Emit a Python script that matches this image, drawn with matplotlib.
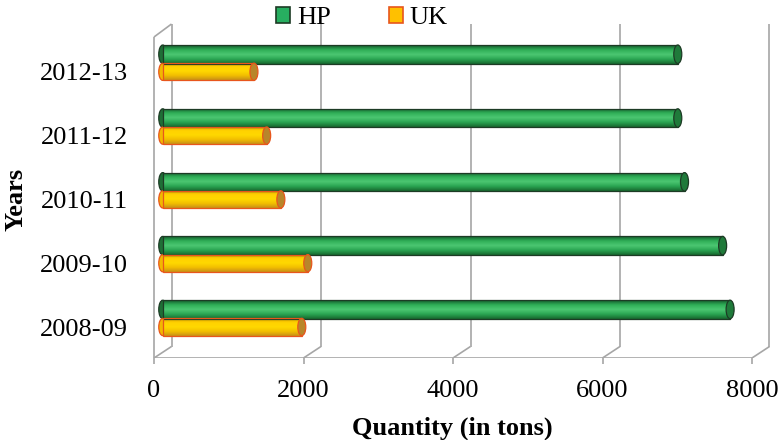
import matplotlib
matplotlib.use('Agg')
import matplotlib.pyplot as plt
import numpy as np
from matplotlib.patches import Rectangle, Ellipse, Patch
from matplotlib.colors import LinearSegmentedColormap

# data (bottom to top)
years = ['2008-09', '2009-10', '2010-11', '2011-12', '2012-13']
hp = [7590, 7490, 6980, 6890, 6890]
uk = [1860, 1940, 1580, 1390, 1220]
x_ticks = [0, 2000, 4000, 6000, 8000]

plt.rcParams['font.family'] = ['Liberation Serif', 'DejaVu Serif']

W, H = 781, 440
fig = plt.figure(figsize=(W / 100, H / 100), dpi=100)

# pixel geometry of the front plane
X0_PX, PX_PER_UNIT = 154, 598 / 8000
Y0_PX, PX_PER_CAT = 327, 63.8
L, R, T, B = 150, 775, 15, 358

ax = fig.add_axes([L / W, (H - B) / H, (R - L) / W, (B - T) / H])
xlim = ((L - X0_PX) / PX_PER_UNIT, (R - X0_PX) / PX_PER_UNIT)
ylim = ((Y0_PX - B) / PX_PER_CAT, (Y0_PX - T) / PX_PER_CAT)

# depth offset of back wall (pixels -> data)
DX = 17.5 / PX_PER_UNIT
DY = 11.5 / PX_PER_CAT
y_floor = ylim[0]
y_top_back = (Y0_PX - 24) / PX_PER_CAT
y_top_front = (Y0_PX - 37) / PX_PER_CAT

grid_kw = dict(color='#a6a6a6', lw=1.2, zorder=1, solid_capstyle='butt')
ax.plot([0, 8000], [y_floor, y_floor], **grid_kw)
for v in x_ticks:
    ax.plot([v, v + DX], [y_floor, y_floor + DY], **grid_kw)
    ax.plot([v + DX, v + DX], [y_floor + DY, y_top_back], **grid_kw)
ax.plot([0, 0], [y_floor, y_top_front], **grid_kw)
ax.plot([0, DX], [y_top_front, y_top_back], **grid_kw)

# cylinder bars
green_cm = LinearSegmentedColormap.from_list('g', ['#145c2c', '#2fae57', '#4cc772', '#2aa552', '#17682f'])
yellow_cm = LinearSegmentedColormap.from_list('y', ['#e0a000', '#ffd200', '#ffd800', '#f2be00', '#c89018'])
cap_w = 8 / PX_PER_UNIT
shift = DX / 2


def cylinder(val, yc, h, cmap, edge, left_face, cap_face):
    x0 = shift
    x1 = shift + val
    back = Ellipse((x0, yc), cap_w, h, facecolor=left_face, edgecolor=edge, lw=0.9, zorder=3)
    ax.add_patch(back)
    rect = Rectangle((x0, yc - h / 2), val, h, facecolor='none', edgecolor=edge, lw=0.9, zorder=5)
    ax.add_patch(rect)
    grad = np.linspace(0, 1, 64).reshape(-1, 1)
    im = ax.imshow(grad, extent=[x0, x1, yc - h / 2, yc + h / 2], aspect='auto',
                   cmap=cmap, origin='upper', zorder=4, interpolation='bilinear')
    im.set_clip_path(Rectangle((x0, yc - h / 2), val, h, transform=ax.transData))
    cap = Ellipse((x1, yc), cap_w, h, facecolor=cap_face, edgecolor=edge, lw=0.9, zorder=6)
    ax.add_patch(cap)


ypos = np.arange(len(years))
for i in range(len(years)):
    cylinder(hp[i], ypos[i] + 0.275, 0.29, green_cm, '#1d3b25', '#1f6e36', '#1f7a3a')
    cylinder(uk[i], ypos[i], 0.27, yellow_cm, '#e8561c', '#f2b800', '#b8862a')

ax.set_xlim(xlim)
ax.set_ylim(ylim)
for s in ax.spines.values():
    s.set_visible(False)

ax.set_xticks(x_ticks)
ax.set_xticklabels([str(v) for v in x_ticks], fontsize=19)
ax.tick_params(axis='x', length=4.5, width=1.2, color='#a6a6a6', pad=11)
ax.set_yticks(ypos)
ax.set_yticklabels(years, fontsize=19)
ax.tick_params(axis='y', length=0, pad=16)

fig.text(452 / W, 1 - 428 / H, 'Quantity (in tons)', fontsize=19, fontweight='bold',
         ha='center', va='center')
fig.text(16 / W, 1 - 199 / H, 'Years', fontsize=19, fontweight='bold',
         ha='center', va='center', rotation=90)

handles = [Patch(facecolor='#27ae60', edgecolor='#1d3b25', lw=1.2, label='HP'),
           Patch(facecolor='#ffc000', edgecolor='#e8561c', lw=1.2, label='UK')]
fig.legend(handles=handles, loc='center', bbox_to_anchor=(362 / W, 1 - 18 / H), ncol=2,
           frameon=False, fontsize=19, handlelength=0.55, handleheight=0.55,
           handletextpad=0.25, columnspacing=2.2)

fig.savefig('out.png', dpi=100, facecolor='white')
